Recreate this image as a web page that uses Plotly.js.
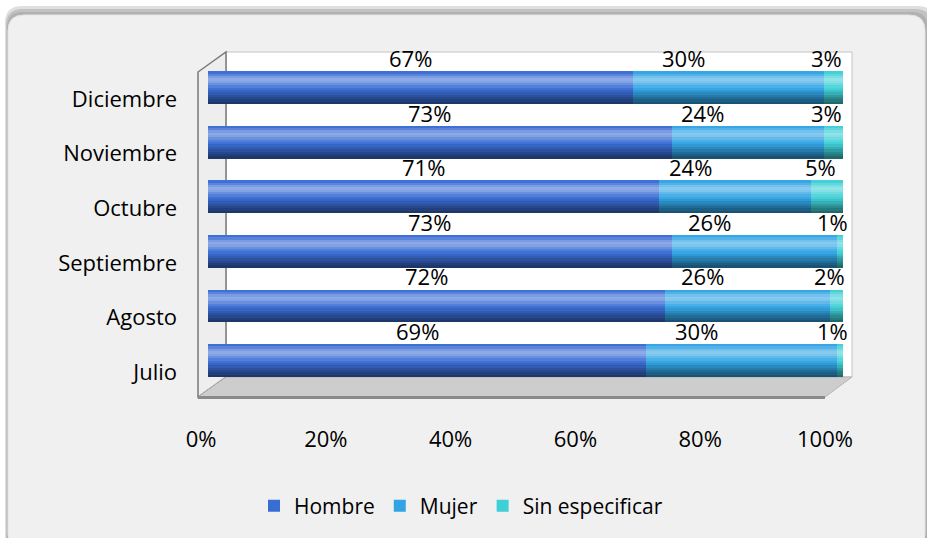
<!DOCTYPE html>
<html>
<head>
<meta charset="utf-8">
<script src="https://cdn.plot.ly/plotly-3.0.1.min.js"></script>
<style>html,body{margin:0;padding:0;background:#fff;}#chart{width:927px;height:538px;}</style>
</head>
<body>
<div id="chart"></div>
<script>
// ---- data ----
const months = ['Julio', 'Agosto', 'Septiembre', 'Octubre', 'Noviembre', 'Diciembre'];
const hombre = [69, 72, 73, 71, 73, 67];
const mujer = [30, 26, 26, 24, 24, 30];
const sinEsp = [1, 2, 1, 5, 3, 3];
const seriesNames = ['Hombre', 'Mujer', 'Sin especificar'];
const tickVals = [0, 20, 40, 60, 80, 100];
const tickText = ['0%', '20%', '40%', '60%', '80%', '100%'];

// ---- layout geometry (pixels) ----
const W = 927, H = 538;
const L = 198, R = 852, T = 52, B = 397;
const fx = p => (p - L) / (R - L);
const fy = p => (B - p) / (B - T);
const poly = pts => 'M' + pts.map(p => fx(p[0]) + ',' + fy(p[1])).join(' L') + ' Z';
function rrect(x0, y0, x1, y1, r) {
  const P = (x, y) => fx(x) + ',' + fy(y);
  return 'M' + P(x0 + r, y0) + ' L' + P(x1 - r, y0) + ' Q' + P(x1, y0) + ' ' + P(x1, y0 + r) +
    ' L' + P(x1, y1 - r) + ' Q' + P(x1, y1) + ' ' + P(x1 - r, y1) +
    ' L' + P(x0 + r, y1) + ' Q' + P(x0, y1) + ' ' + P(x0, y1 - r) +
    ' L' + P(x0, y0 + r) + ' Q' + P(x0, y0) + ' ' + P(x0 + r, y0) + ' Z';
}
function hex2rgb(h) { return [1, 3, 5].map(i => parseInt(h.substr(i, 2), 16)); }
function shade(h, f) {
  const c = hex2rgb(h).map(v => f < 0 ? v * (1 + f) : v + (255 - v) * f);
  return 'rgb(' + c.map(v => Math.round(v)).join(',') + ')';
}

const FONT = 'Open Sans, DejaVu Sans, sans-serif';
const series = [hombre, mujer, sinEsp];
const bases = [
  months.map(() => 0),
  hombre.slice(),
  hombre.map((h, i) => h + mujer[i])
];
const mainCol = ['#3a6dd4', '#32a4e4', '#3fcfd6'];
// vertical shading profile (bottom -> top) for the cylinder look
const profile = [-0.5, -0.42, -0.34, -0.25, -0.16, -0.07, 0.02, 0.12, 0.24, 0.36, 0.42, 0.32, 0.16, 0.02];

const BW = 0.6, OFF = -0.09;
const traces = [];
series.forEach((vals, s) => {
  traces.push({
    type: 'bar', orientation: 'h', name: seriesNames[s],
    y: months, x: vals, base: bases[s],
    width: BW, offset: OFF,
    marker: { color: mainCol[s], line: { width: 0 } },
    hoverinfo: 'skip', showlegend: true, legendrank: s + 1
  });
  const n = profile.length, sw = BW / n;
  profile.forEach((f, k) => {
    const last = k === n - 1;
    traces.push({
      type: 'bar', orientation: 'h', y: months, x: vals, base: bases[s],
      width: last ? sw : sw * 1.4, offset: OFF + k * sw,
      marker: { color: shade(mainCol[s], f), line: { width: 0 } },
      hoverinfo: 'skip', showlegend: false
    });
  });
});
// helper trace so the tick axis exists
traces.push({
  type: 'scatter', x: [tickVals[0], tickVals[tickVals.length - 1]], y: [months[0], months[0]],
  xaxis: 'x2', yaxis: 'y', mode: 'none', hoverinfo: 'skip', showlegend: false
});

const annotations = [];
const xshift = [-10, -45, -7];
months.forEach((m, i) => {
  series.forEach((vals, s) => {
    annotations.push({
      x: bases[s][i] + vals[i] / 2, y: m, xref: 'x', yref: 'y',
      text: vals[i] + '%', showarrow: false, yshift: 41, xshift: xshift[s],
      font: { family: FONT, size: 22, color: '#000' }
    });
  });
});

const shapes = [
  // card shadow + card
  { type: 'path', xref: 'paper', yref: 'paper', path: rrect(5, 6, 935, 560, 17), fillcolor: 'rgba(150,150,150,0.30)', line: { width: 0 }, layer: 'below' },
  { type: 'path', xref: 'paper', yref: 'paper', path: rrect(6, 9, 932, 556, 17), fillcolor: 'rgba(150,150,150,0.40)', line: { width: 0 }, layer: 'below' },
  { type: 'path', xref: 'paper', yref: 'paper', path: rrect(7, 12, 928, 553, 16), fillcolor: 'rgba(160,160,160,0.5)', line: { width: 0 }, layer: 'below' },
  { type: 'path', xref: 'paper', yref: 'paper', path: rrect(8, 15, 925, 550, 16), fillcolor: '#f0f0f0', line: { color: '#e4e4e4', width: 1 }, layer: 'below' },
  // back wall
  { type: 'path', xref: 'paper', yref: 'paper', path: poly([[226, 52], [852, 52], [852, 377], [226, 377]]), fillcolor: '#ffffff', line: { color: '#c4c4c4', width: 1 }, layer: 'below' },
  // left wall
  { type: 'path', xref: 'paper', yref: 'paper', path: poly([[198, 72], [226, 52], [226, 377], [198, 397]]), fillcolor: '#eeeeee', line: { color: '#7a7a7a', width: 1.5 }, layer: 'below' },
  // floor
  { type: 'path', xref: 'paper', yref: 'paper', path: poly([[198, 397], [226, 377], [852, 377], [825, 397]]), fillcolor: '#cdcdcd', line: { color: '#b4b4b4', width: 1 }, layer: 'below' },
  { type: 'path', xref: 'paper', yref: 'paper', path: poly([[198, 396], [825, 396], [825, 399], [198, 399]]), fillcolor: '#8a8a8a', line: { width: 0 }, layer: 'below' }
];

const layout = {
  width: W, height: H,
  margin: { l: L, r: W - R, t: T, b: H - B, pad: 0 },
  paper_bgcolor: '#ffffff', plot_bgcolor: 'rgba(0,0,0,0)',
  barmode: 'overlay', bargap: 0,
  font: { family: FONT, size: 22, color: '#000' },
  xaxis: {
    domain: [fx(208), fx(843)], range: [0, 100], showgrid: false, zeroline: false,
    showticklabels: false, showline: false, ticks: '', fixedrange: true
  },
  xaxis2: {
    domain: [fx(201), fx(825)], range: [0, 100], anchor: 'y', showgrid: false, zeroline: false,
    tickvals: tickVals, ticktext: tickText, showline: false, ticks: '',
    ticklabelstandoff: 27, tickfont: { family: FONT, size: 22, color: '#000' }, fixedrange: true
  },
  yaxis: {
    type: 'category', categoryorder: 'array', categoryarray: months,
    range: [-0.458, 5.861], showgrid: false, zeroline: false, showline: false,
    ticks: '', ticklabelstandoff: 30, tickfont: { family: FONT, size: 22, color: '#000' },
    fixedrange: true
  },
  legend: {
    orientation: 'h', x: fx(461), xanchor: 'center', y: fy(506), yanchor: 'middle',
    font: { family: FONT, size: 21, color: '#000' }, bgcolor: 'rgba(0,0,0,0)',
    itemwidth: 30, traceorder: 'normal'
  },
  shapes: shapes,
  annotations: annotations,
  showlegend: true
};

Plotly.newPlot('chart', traces, layout, { staticPlot: true, displayModeBar: false });
</script>
</body>
</html>
